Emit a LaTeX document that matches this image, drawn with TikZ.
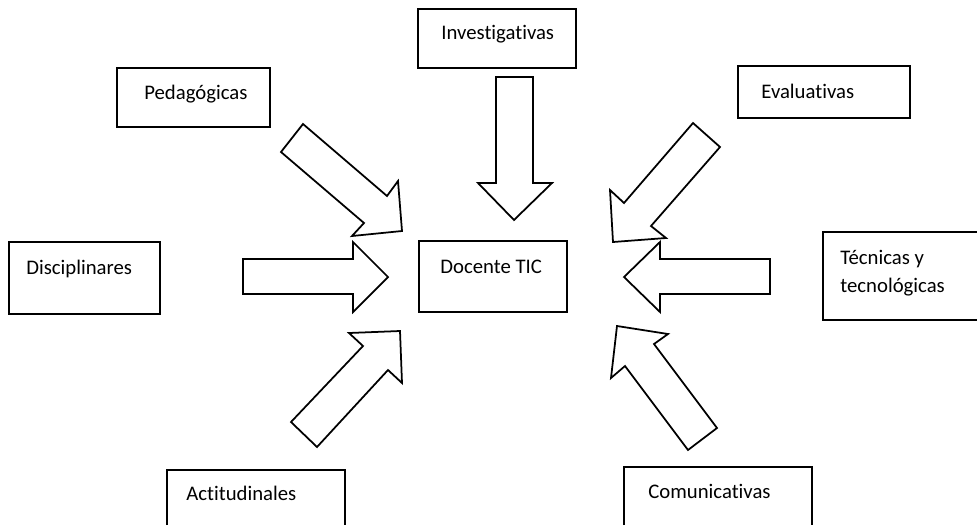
\documentclass[tikz,border=0pt]{standalone}
\usepackage{fontspec}
\setmainfont[Ligatures=NoCommon]{Carlito}
\usepackage{tikz}
\usetikzlibrary{positioning}

\begin{document}
\begin{tikzpicture}[x=0.02cm,y=-0.02cm,
    caja/.style={draw=black,line width=0.9pt},
    flecha/.style={draw=black,fill=white,line width=1pt,line join=miter},
    etiqueta/.style={anchor=base west,inner sep=0pt,font=\fontsize{11.8}{16}\selectfont}]
  \useasboundingbox (0,0) rectangle (977,525);
  % recuadros
  \draw[caja] (418,9) rectangle (576,68);
  \draw[caja] (117,68) rectangle (270,127);
  \draw[caja] (738,66) rectangle (910,118);
  \draw[caja] (9,242) rectangle (160,314);
  \draw[caja] (419,241) rectangle (567,312);
  \draw[caja] (977,232) -- (823,232) -- (823,320) -- (977,320);
  \draw[caja] (167,525) -- (167,470) -- (345,470) -- (345,525);
  \draw[caja] (624,525) -- (624,467) -- (812,467) -- (812,525);
  \node[etiqueta] (inv) at (441,39) {Investigativas};
  \node[etiqueta] (ped) at (144,99) {Pedagógicas};
  \node[etiqueta] (eva) at (761,98) {Evaluativas};
  \node[etiqueta] (dis) at (26,274) {Disciplinares};
  \node[etiqueta] (doc) at (440,273) {Docente TIC};
  \node[etiqueta,anchor=west,align=left] (tec) at (840,273) {Técnicas y\\tecnológicas};
  \node[etiqueta] (act) at (186,500) {Actitudinales};
  \node[etiqueta] (com) at (648,498) {Comunicativas};
  % flechas hacia el centro
  \draw[flecha] (496,77) -- (533,77) -- (533,183) -- (552,183) -- (514,220) -- (478,183) -- (496,183) -- cycle;
  \draw[flecha] (303,124) -- (387,196) -- (398,181) -- (402,231) -- (352,236) -- (364,223) -- (281,152) -- cycle;
  \draw[flecha] (693,123) -- (720,147) -- (651,226) -- (666,238) -- (613,242) -- (610,190) -- (624,203) -- cycle;
  \draw[flecha] (243,259) -- (353,259) -- (353,242) -- (388,277) -- (353,312) -- (353,294) -- (243,294) -- cycle;
  \draw[flecha] (770,259) -- (660,259) -- (660,242) -- (624,277) -- (660,312) -- (660,294) -- (770,294) -- cycle;
  \draw[flecha] (291,422) -- (317,447) -- (388,370) -- (402,383) -- (400,331) -- (349,333) -- (363,346) -- cycle;
  \draw[flecha] (688,450) -- (717,428) -- (654,344) -- (668,334) -- (617,326) -- (611,378) -- (625,366) -- cycle;
\end{tikzpicture}
\end{document}
